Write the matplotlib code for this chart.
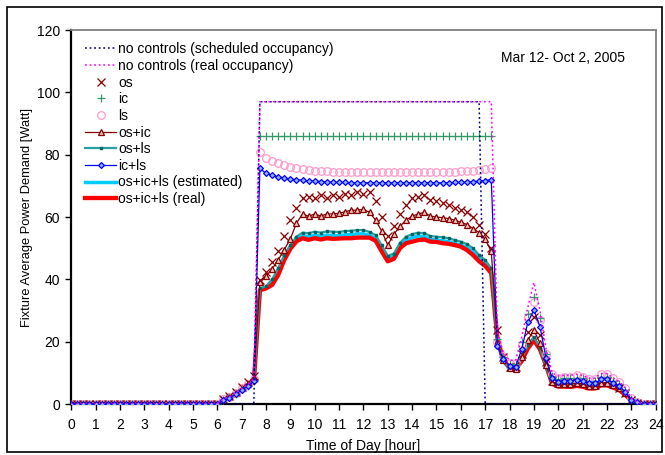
import numpy as np
import matplotlib
matplotlib.use("Agg")
import matplotlib.pyplot as plt
from matplotlib.patches import Rectangle

plt.rcParams['font.family'] = ['Liberation Sans', 'DejaVu Sans']

# quarter-hour time grid, 0 .. 24 h
hours = np.arange(0, 24.25, 0.25)

# values: night (0-6h), morning ramp (6.25-7.5),
# occupied hours (7.75-17.25), evening (17.5-23.25), end (23.5-24)
sched = [0.0] * 31 + [97.0] * 37 + [0.0] * 29

real_occ = ([0.0] * 25 + [1.6, 2.4, 3.5, 5.0, 6.3, 8.0] + [97.0] * 39 +
            [23.0, 16.5, 14.0, 14.0, 21.5, 31.0, 39.0, 30.0, 17.5, 10.0, 9.0, 9.2,
             9.2, 9.6, 9.2, 8.3, 8.3, 9.8, 9.8, 8.4, 7.2, 5.1, 1.8, 0.6] + [0.0] * 3)

os_ = ([0.0] * 25 + [1.6, 2.6, 3.9, 5.5, 7.0, 9.0] +
       [39.8, 42.4, 45.5, 49.0, 54.0, 59.0, 63.0, 66.0, 66.5, 66.0, 67.0, 66.0, 67.0, 66.5,
        67.5, 67.0, 68.0, 67.5, 68.0, 65.0, 60.0, 54.0, 57.0, 61.0, 64.0, 66.0, 66.5,
        67.0, 65.5, 65.0, 64.5, 64.0, 63.0, 62.2, 61.5, 60.0, 57.5, 54.5, 50.0] +
       [23.8, 15.0, 12.0, 11.8, 16.0, 23.0, 28.0, 22.0, 13.5, 7.5, 6.6, 6.9,
        6.9, 7.1, 6.9, 6.1, 6.1, 7.3, 7.3, 6.3, 5.3, 3.7, 1.2, 0.4] + [0.0] * 3)

ic = ([0.0] * 25 + [1.4, 2.1, 3.2, 4.7, 5.9, 7.5] + [86.0] * 39 +
      [21.0, 15.0, 13.0, 13.0, 20.0, 29.0, 34.2, 27.5, 16.0, 9.0, 8.0, 8.2,
       8.2, 8.5, 8.2, 7.4, 7.4, 8.7, 8.7, 7.5, 6.4, 4.5, 1.5, 0.5] + [0.0] * 3)

ls = ([0.0] * 25 + [1.6, 2.4, 3.5, 5.0, 6.3, 8.0] +
      [81.0, 78.8, 77.9, 77.2, 76.6, 76.1, 75.7, 75.4, 75.1, 74.9, 74.8, 74.7, 74.6, 74.5,
       74.5, 74.4, 74.4, 74.4, 74.4, 74.4, 74.4, 74.4, 74.4, 74.4, 74.4, 74.4, 74.4,
       74.4, 74.4, 74.5, 74.5, 74.5, 74.6, 74.7, 74.8, 74.9, 75.1, 75.3, 75.6] +
      [20.0, 15.5, 13.3, 13.2, 19.0, 28.0, 32.8, 27.0, 16.0, 9.5, 8.5, 8.8,
       8.8, 9.2, 8.8, 8.0, 8.0, 9.5, 9.5, 8.2, 7.0, 5.0, 1.8, 0.6] + [0.0] * 3)

os_ic = ([0.0] * 25 + [1.4, 2.3, 3.5, 5.0, 6.4, 8.2] +
         [39.0, 41.0, 43.3, 46.2, 49.5, 53.0, 58.0, 61.0, 60.2, 61.0, 60.3, 61.0, 61.0, 61.2,
          61.7, 62.2, 62.2, 62.5, 61.5, 59.0, 55.5, 51.0, 54.5, 57.0, 59.0, 60.3, 61.0,
          61.5, 60.3, 60.0, 59.8, 59.5, 59.0, 58.3, 57.6, 56.3, 55.0, 52.8, 49.0] +
         [20.0, 14.0, 11.5, 11.3, 15.0, 20.5, 23.7, 19.5, 12.5, 7.0, 6.3, 6.5,
          6.5, 6.7, 6.5, 5.8, 5.8, 6.9, 6.9, 6.0, 5.0, 3.5, 1.1, 0.4] + [0.0] * 3)

os_ls = ([0.0] * 25 + [1.3, 2.1, 3.2, 4.7, 5.9, 7.5] +
         [37.1, 37.8, 40.0, 43.5, 47.8, 51.0, 53.7, 55.0, 54.8, 55.3, 55.0, 55.4, 55.3, 55.2,
          55.5, 55.6, 55.8, 55.8, 55.2, 54.2, 51.0, 47.5, 48.3, 51.7, 53.7, 54.5, 55.0,
          54.8, 53.9, 53.7, 53.5, 53.2, 52.6, 52.1, 51.3, 50.0, 47.8, 46.2, 43.5] +
         [20.0, 14.0, 11.5, 11.2, 14.5, 19.0, 21.5, 18.0, 12.0, 6.8, 6.2, 6.3,
          6.3, 6.5, 6.3, 5.6, 5.6, 6.7, 6.7, 5.8, 4.8, 3.4, 1.0, 0.3] + [0.0] * 3)

ic_ls = ([0.0] * 25 + [1.3, 2.0, 3.1, 4.6, 5.8, 7.3] +
         [75.6, 74.0, 73.4, 72.9, 72.5, 72.2, 72.0, 71.8, 71.6, 71.5, 71.4, 71.3, 71.2, 71.1,
          71.1, 71.0, 71.0, 71.0, 71.0, 71.0, 71.0, 71.0, 71.0, 71.0, 71.0, 71.0, 71.0,
          71.0, 71.0, 71.0, 71.0, 71.0, 71.1, 71.1, 71.2, 71.3, 71.5, 71.7, 72.0] +
         [18.6, 14.4, 12.2, 12.0, 17.6, 26.2, 30.2, 24.8, 14.7, 8.2, 7.2, 7.5,
          7.5, 7.7, 7.5, 6.6, 6.6, 7.9, 7.9, 6.8, 5.8, 4.0, 1.3, 0.5] + [0.0] * 3)

all_est = ([0.0] * 25 + [1.3, 2.0, 3.1, 4.6, 5.8, 7.3] +
           [36.8, 37.2, 39.0, 42.3, 46.8, 50.3, 52.8, 53.9, 53.7, 54.1, 53.9, 54.2, 54.1, 54.0,
            54.3, 54.4, 54.6, 54.6, 54.1, 53.1, 50.0, 46.6, 47.4, 50.7, 52.6, 53.4, 53.9,
            53.7, 52.8, 52.6, 52.4, 52.1, 51.5, 51.0, 50.2, 48.9, 46.8, 45.3, 42.7] +
           [19.5, 13.8, 11.2, 11.0, 14.2, 18.6, 21.1, 17.6, 11.7, 6.6, 6.0, 6.1,
            6.1, 6.3, 6.1, 5.4, 5.4, 6.5, 6.5, 5.6, 4.6, 3.3, 1.0, 0.3] + [0.0] * 3)

all_real = ([0.0] * 25 + [1.2, 1.9, 3.0, 4.4, 5.6, 7.1] +
            [36.5, 37.1, 38.2, 41.4, 46.2, 49.8, 52.2, 53.2, 52.7, 53.2, 52.8, 53.2, 53.0, 53.1,
             53.2, 53.2, 53.4, 53.4, 53.4, 52.4, 49.0, 45.8, 46.6, 50.0, 51.6, 52.1, 52.6,
             52.8, 52.1, 52.0, 51.6, 51.4, 51.0, 50.5, 49.4, 47.8, 45.8, 44.3, 42.0] +
            [21.0, 14.0, 11.8, 11.2, 13.8, 17.8, 20.5, 17.5, 12.5, 6.5, 5.6, 5.6,
             5.5, 5.8, 5.6, 5.0, 5.0, 6.0, 6.0, 5.3, 4.5, 3.0, 1.0, 0.3] + [0.0] * 3)

fig = plt.figure(figsize=(6.65, 4.55), dpi=100)
ax = fig.add_axes([0.107, 0.112, 0.879, 0.822])

h = []
h += ax.plot(hours, sched, ls=(0, (1.2, 1.8)), color='#000080', lw=1.1, zorder=3,
             label='no controls (scheduled occupancy)')
h += ax.plot(hours, real_occ, ls=(0, (1.2, 1.8)), color='#FF00FF', lw=1.1, zorder=3.1,
             label='no controls (real occupancy)')
h += ax.plot(hours, os_, ls='none', marker='x', ms=5.5, mew=0.9, color='#8B0000', zorder=2.5,
             label='os')
h += ax.plot(hours, ic, ls='none', marker='+', ms=6, mew=0.9, color='#339966', zorder=2.6,
             label='ic')
h += ax.plot(hours, ls, ls='none', marker='o', ms=5.5, mew=0.9, mfc='none', color='#FF99CC',
             zorder=2.4, label='ls')
h += ax.plot(hours, os_ic, color='#800000', lw=0.9, marker='^', ms=3.8, mfc='#F4C0C0', mew=0.9,
             zorder=2.3, label='os+ic')
h += ax.plot(hours, os_ls, color='#26A0A0', lw=1.6, marker='s', ms=1.6, mfc='#006666',
             mec='#006666', zorder=2.2, label='os+ls')
h += ax.plot(hours, ic_ls, color='#0000FF', lw=0.9, marker='D', ms=3.0, mfc='#8FB0FF',
             mec='#0000FF', mew=0.9, zorder=2.7, label='ic+ls')
h += ax.plot(hours, all_est, color='#00CCFF', lw=2.5, zorder=2.1,
             label='os+ic+ls (estimated)')
h += ax.plot(hours, all_real, color='#FF0000', lw=3.1, zorder=2.15,
             label='os+ic+ls (real)')

ax.set_xlim(0, 24)
ax.set_ylim(0, 120)
ax.set_xticks(range(0, 25))
ax.set_yticks(range(0, 121, 20))
ax.tick_params(direction='out', length=4, width=1, labelsize=10, pad=4)
ax.tick_params(axis='x', pad=6)
ax.set_xlabel('Time of Day [hour]', fontsize=10, labelpad=5)
ax.set_ylabel('Fixture Average Power Demand [Watt]', fontsize=9.3, labelpad=3)

for side in ['left', 'bottom']:
    ax.spines[side].set_linewidth(1.6)
    ax.spines[side].set_color('black')
for side in ['top', 'right']:
    ax.spines[side].set_linewidth(1.3)
    ax.spines[side].set_color('#808080')

ax.text(20.2, 111, 'Mar 12- Oct 2, 2005', ha='center', va='center', fontsize=10)

ax.legend(handles=h, loc='upper left', bbox_to_anchor=(0.014, 0.982), frameon=False,
          fontsize=10, handlelength=2.25, handletextpad=0.15, labelspacing=0.19,
          borderaxespad=0.2, borderpad=0.2)

fig.patches.append(Rectangle((0.011, 0.006), 0.984, 0.979, transform=fig.transFigure,
                             fill=False, edgecolor='black', lw=1.2))

fig.savefig('out.png', dpi=100)
